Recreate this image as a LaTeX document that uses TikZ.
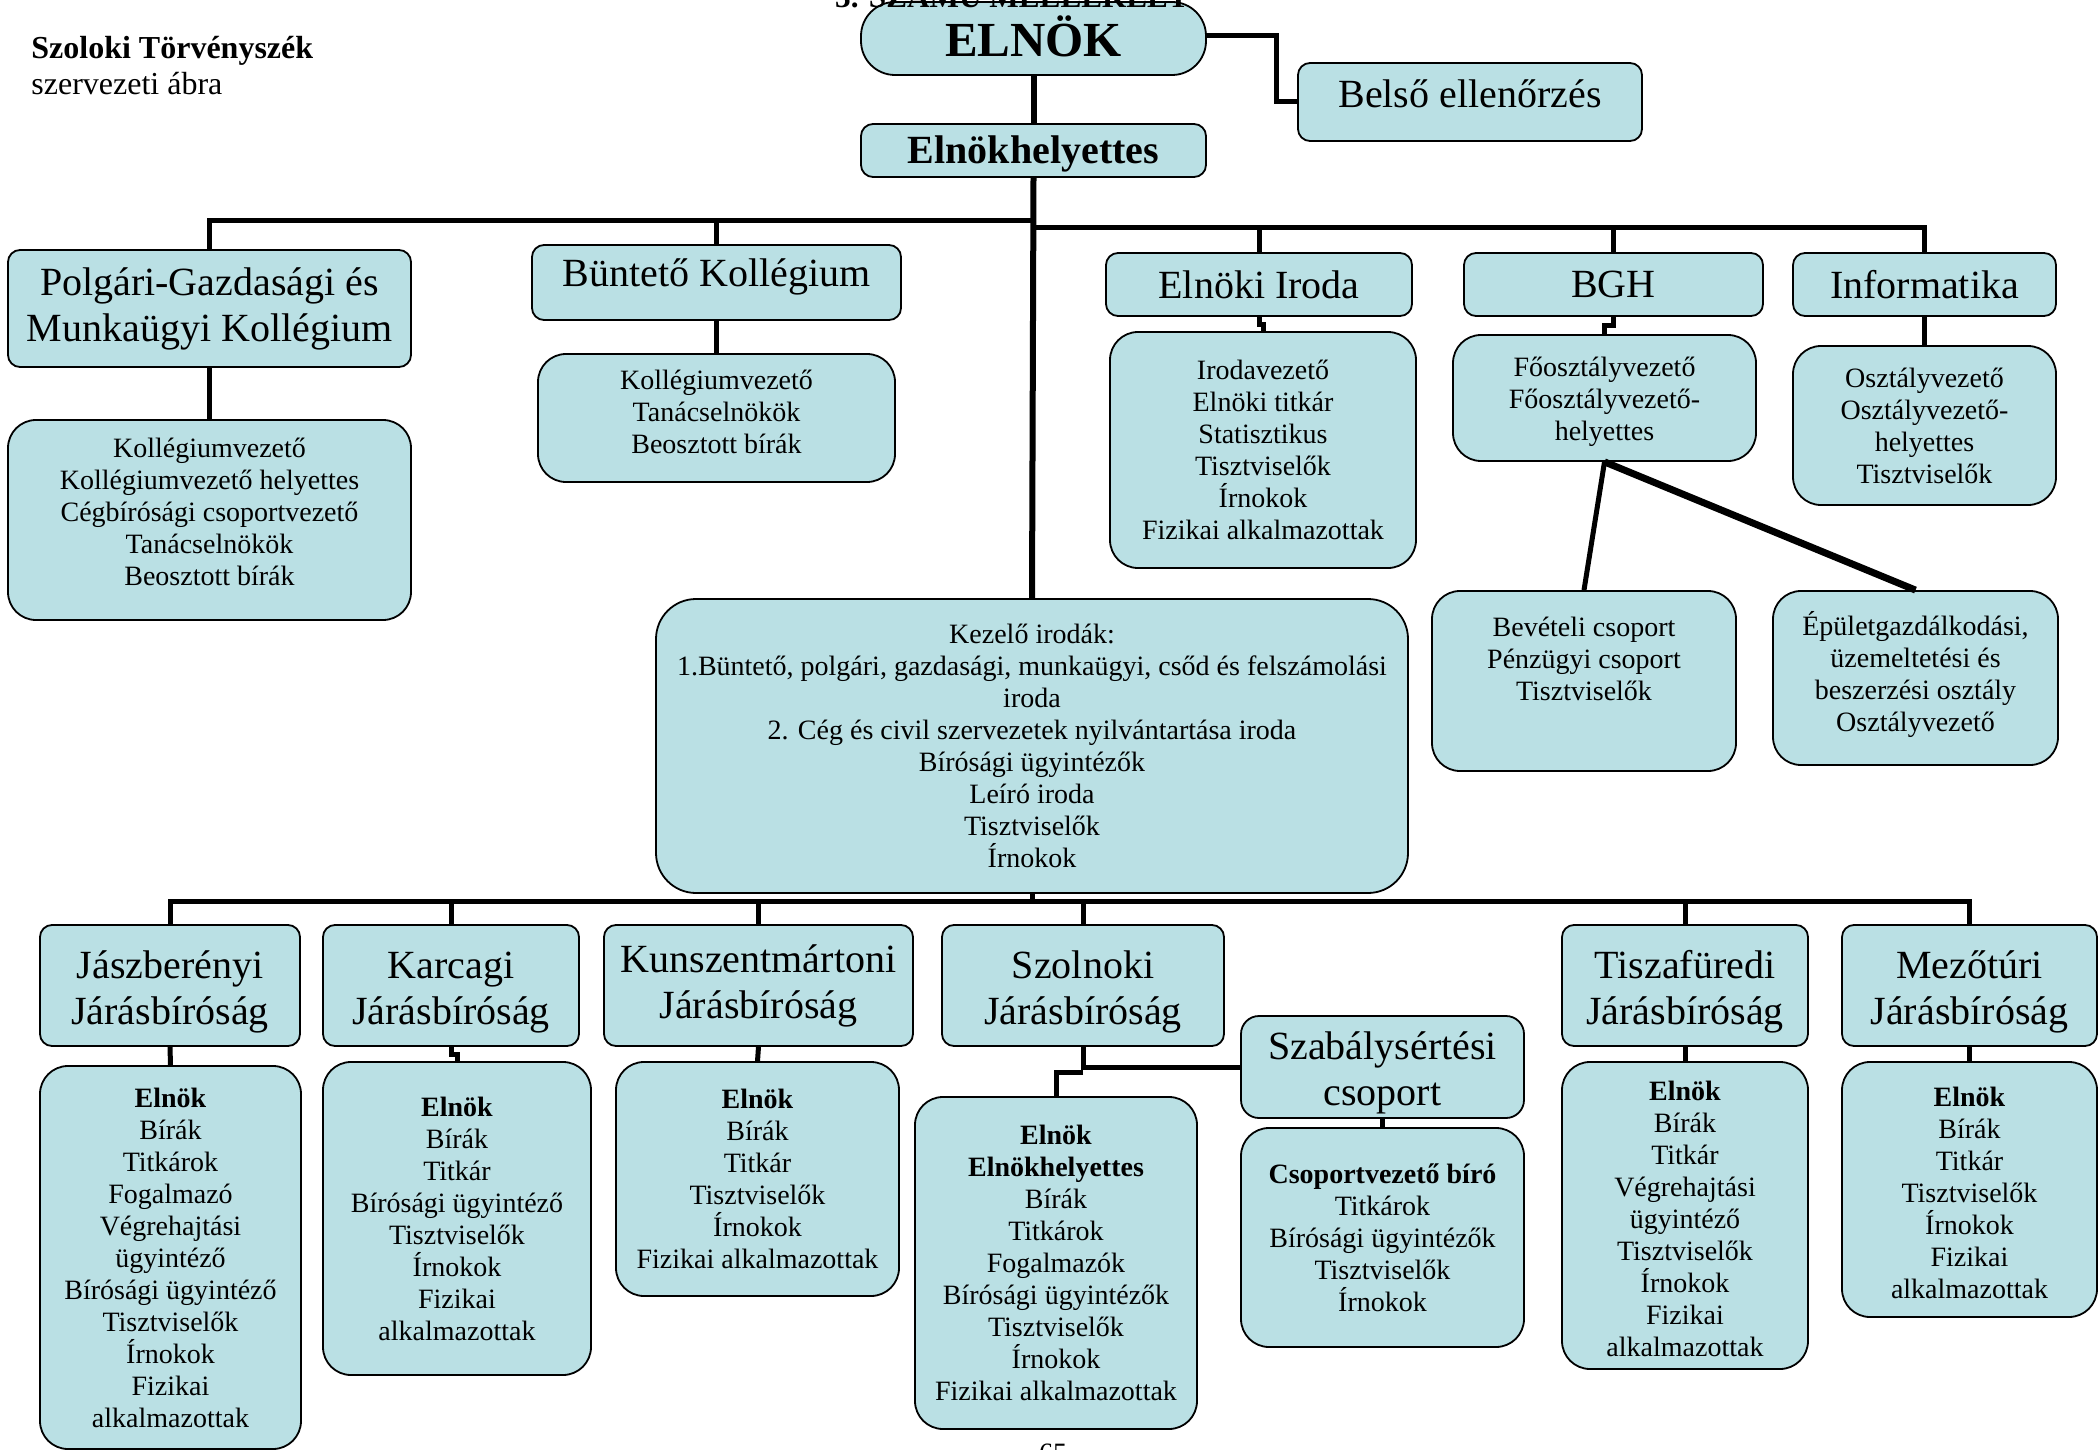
\documentclass[tikz,border=0pt]{standalone}
\usepackage{fontspec}
\setmainfont{Liberation Serif}
\definecolor{boxblue}{RGB}{186,224,228}
\newcommand\hstr[1]{\rule{0pt}{#1}}
\newcommand\dstr[1]{\rule[-#1]{0pt}{0pt}}
\begin{document}
\begin{tikzpicture}[x=0.5pt,y=-0.5pt,
  base/.style={draw=black, line width=0.9pt, fill=boxblue, align=center, inner sep=0pt},
  sz/.style 2 args={minimum width=0.5pt*#1, minimum height=0.5pt*#2},
  head/.style={base, rounded corners=6pt, font=\fontsize{20}{23}\selectfont},
  body/.style={base, rounded corners=14pt, font=\fontsize{14}{16}\selectfont},
  conn/.style={line width=2.5pt, line join=miter},
  trunk/.style={line width=3pt}]
\useasboundingbox (0,0) rectangle (2100,1450);

% title texts
\node[anchor=west, align=left, inner sep=0pt, font=\fontsize{16}{18}\selectfont] (title) at (31,66)
  {\textbf{Szoloki Törvényszék}\\szervezeti ábra};

% top
\node[base, rounded corners=17pt, sz={345}{73}, font=\fontsize{24.5}{28}\bfseries] (elnok) at (1033.5,38.5) {ELNÖK\dstr{2.7pt}};
\node[inner sep=0pt, anchor=base, font=\fontsize{15.6}{18}\bfseries] (mell) at (1012,8) {3. SZÁMÚ MELLÉKLET};
\node[head, sz={344}{78}] (belso) at (1470,102) {\raisebox{8pt}{Belső ellenőrzés}};
\node[head, sz={345}{53}, font=\fontsize{20}{23}\bfseries] (helyettes) at (1033.5,150.5) {\hstr{17.5pt}Elnökhelyettes};

% second level
\node[head, sz={403}{117}] (polgari) at (209.5,308.5) {Polgári-Gazdasági és\\Munkaügyi Kollégium};
\node[body, sz={403}{200}] (polgari2) at (209.5,520) {Kollégiumvezető\\Kollégiumvezető helyettes\\Cégbírósági csoportvezető\\Tanácselnökök\\Beosztott bírák\dstr{8pt}};
\node[head, sz={369}{75}] (buntet) at (716.5,282.5) {Büntető Kollégium\dstr{9.7pt}};
\node[body, sz={357}{128}] (buntet2) at (716.5,418) {Kollégiumvezető\\Tanácselnökök\\Beosztott bírák\dstr{6.7pt}};
\node[head, sz={306}{63}] (iroda) at (1259,284.5) {Elnöki Iroda};
\node[body, sz={306}{236}] (iroda2) at (1263,450) {Irodavezető\\Elnöki titkár\\Statisztikus\\Tisztviselők\\Írnokok\\Fizikai alkalmazottak};
\node[head, sz={299}{63}] (bgh) at (1613.5,284.5) {BGH};
\node[body, sz={303}{126}] (bgh2) at (1604.5,398) {\hstr{13.8pt}Főosztályvezető\\Főosztályvezető-\\helyettes};
\node[head, sz={263}{63}] (info) at (1924.5,284.5) {Informatika};
\node[body, sz={263}{159}] (info2) at (1924.5,425.5) {Osztályvezető\\Osztályvezető-\\helyettes\\Tisztviselők};
\node[body, sz={304}{180}] (bev) at (1584,681) {Bevételi csoport\\Pénzügyi csoport\\Tisztviselők\\[6pt]\mbox{}};
\node[body, sz={285}{174}] (epulet) at (1915.5,678) {Épületgazdálkodási,\\üzemeltetési és\\beszerzési osztály\\Osztályvezető\dstr{7pt}};
\node[body, rounded corners=20pt, sz={752}{294}] (kezelo) at (1032,746) {Kezelő irodák:\\1.Büntető, polgári, gazdasági, munkaügyi, csőd és felszámolási\\iroda\\2. Cég és civil szervezetek nyilvántartása iroda\\Bírósági ügyintézők\\Leíró iroda\\Tisztviselők\\Írnokok};

% bottom row
\node[head, sz={260}{121}] (jasz) at (170,985.5) {\hstr{20.5pt}Jászberényi\\Járásbíróság};
\node[body, sz={261}{383}] (jasz2) at (170.5,1257.5) {\textbf{Elnök}\\Bírák\\Titkárok\\Fogalmazó\\Végrehajtási\\ügyintéző\\Bírósági ügyintéző\\Tisztviselők\\Írnokok\\Fizikai\\alkalmazottak};
\node[head, sz={256}{121}] (karcag) at (451,985.5) {\hstr{20.5pt}Karcagi\\Járásbíróság};
\node[body, sz={268}{313}] (karcag2) at (457,1218.5) {\textbf{Elnök}\\Bírák\\Titkár\\Bírósági ügyintéző\\Tisztviselők\\Írnokok\\Fizikai\\alkalmazottak};
\node[head, sz={309}{121}] (kunsz) at (758.5,985.5) {Kunszentmártoni\\Járásbíróság};
\node[body, sz={283}{234}] (kunsz2) at (757.5,1179) {\textbf{Elnök}\\Bírák\\Titkár\\Tisztviselők\\Írnokok\\Fizikai alkalmazottak};
\node[head, sz={282}{121}] (szolnok) at (1083,985.5) {\hstr{20.5pt}Szolnoki\\Járásbíróság};
\node[body, sz={282}{332}] (szolnok2) at (1056,1263) {\textbf{Elnök}\\\textbf{Elnökhelyettes}\\Bírák\\Titkárok\\Fogalmazók\\Bírósági ügyintézők\\Tisztviselők\\Írnokok\\Fizikai alkalmazottak};
\node[head, rounded corners=9pt, sz={283}{102}] (szab) at (1382.5,1067) {\hstr{19.5pt}Szabálysértési\\csoport};
\node[body, sz={283}{219}] (szab2) at (1382.5,1237.5) {\textbf{Csoportvezető bíró}\\Titkárok\\Bírósági ügyintézők\\Tisztviselők\\Írnokok};
\node[head, sz={246}{121}] (tisza) at (1685,985.5) {\hstr{20.5pt}Tiszafüredi\\Járásbíróság};
\node[body, sz={246}{307}] (tisza2) at (1685,1215.5) {\hstr{13.5pt}\textbf{Elnök}\\Bírák\\Titkár\\Végrehajtási\\ügyintéző\\Tisztviselők\\Írnokok\\Fizikai\\alkalmazottak};
\node[head, sz={255}{121}] (mezo) at (1969.5,985.5) {\hstr{20.5pt}Mezőtúri\\Járásbíróság};
\node[body, sz={255}{255}] (mezo2) at (1969.5,1189.5) {\hstr{13.5pt}\textbf{Elnök}\\Bírák\\Titkár\\Tisztviselők\\Írnokok\\Fizikai\\alkalmazottak};

\node[inner sep=0pt, anchor=base, font=\fontsize{14}{16}\selectfont] (page) at (1053,1462) {65};

% connectors: top
\draw[conn] (elnok.east) ++(0,-3) -- ++(70,0) |- (belso.west);
\draw[trunk] (elnok.south) -- (helyettes.north);
\draw[trunk] (helyettes.south) -- (kezelo.north);
\coordinate (tbL) at (1033.5,220);
\coordinate (tbR) at (1033.5,227);
\draw[conn] (polgari.north) |- (tbL);
\draw[conn] (info.north) |- (tbR);
\draw[conn] (buntet.north) -- (buntet.north |- tbL);
\draw[conn] (iroda.north) -- (iroda.north |- tbR);
\draw[conn] (bgh.north) -- (bgh.north |- tbR);
\draw[conn] (polgari.south) -- (polgari2.north);
\draw[conn] (buntet.south) -- (buntet2.north);
\draw[conn] (iroda.south) -- ++(0,8) -| (iroda2.north);
\draw[conn] (bgh.south) -- ++(0,9) -| (bgh2.north);
\draw[conn] (info.south) -- (info2.north);
\draw[conn] (bgh2.south) -- (bev.north);
\draw[line width=3.5pt] (bgh2.south) -- (epulet.north);

% connectors: bottom
\draw[conn] (kezelo.south) -- ++(0,8) coordinate (kb);
\draw[conn] (jasz.north) |- (kb) -| (mezo.north);
\draw[conn] (karcag.north) -- (karcag.north |- kb);
\draw[conn] (kunsz.north) -- (kunsz.north |- kb);
\draw[conn] (szolnok.north) -- (szolnok.north |- kb);
\draw[conn] (tisza.north) -- (tisza.north |- kb);
\draw[conn] (jasz.south) -- (jasz2.north);
\draw[conn] (karcag.south) -- ++(0,8) -| (karcag2.north);
\draw[conn] (kunsz.south) -- (kunsz2.north);
\draw[conn] (szolnok.south) |- (szab.west);
\draw[conn] (szolnok.south) ++(0,26) -| (szolnok2.north);
\draw[conn] (szab.south) -- (szab2.north);
\draw[conn] (tisza.south) -- (tisza2.north);
\draw[conn] (mezo.south) -- (mezo2.north);
\end{tikzpicture}
\end{document}
